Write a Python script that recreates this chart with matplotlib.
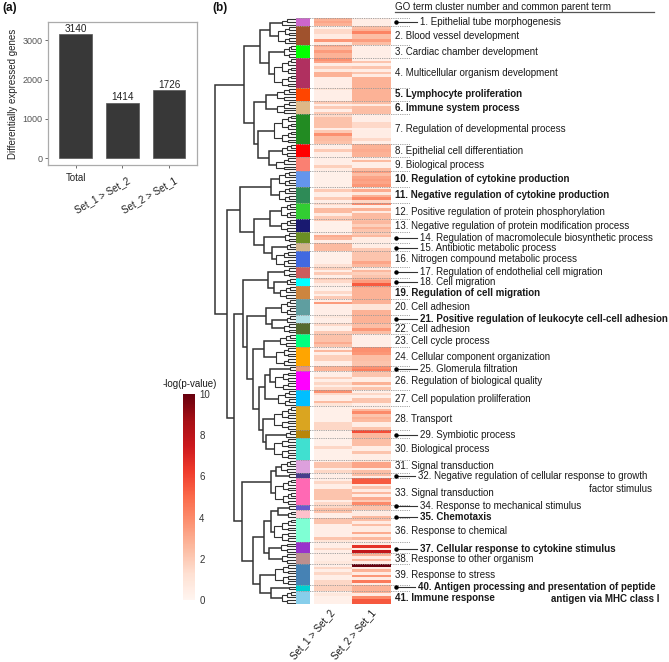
import numpy as np
import matplotlib
matplotlib.use('Agg')
import matplotlib.pyplot as plt
from matplotlib.colors import ListedColormap

plt.rcParams['font.family'] = ['Liberation Sans', 'DejaVu Sans']

W, H = 669, 662

# panel a
bar_names = ['Total', 'Set_1 > Set_2', 'Set_2 > Set_1']
bar_values = [3140, 1414, 1726]

# panel b: one list per GO cluster, one value per term
set1_values = [
    [2.8, 3.2, 2.8],
    [.3, 1.5, 1.5, .6, .6, 3.6, .8],
    [3, 2.5, 3.5, 2.8, 2.8],
    [3.8, 3.2, .5, 2, .7, 2.8, 2.8, .4, .4, .4, .4],
    [1, .4, .4, .4, .4],
    [2, .4, 2, .4, 2],
    [1.5, 2.3, 2.3, 2.3, 2.3, .4, 2, 3.8, 2.5, 2.5, 2.3],
    [.4, .4, 2, .4, .4],
    [.4, .4, .4, 1.8, .5],
    [.3, .3, .3, .3, .3, .3],
    [.3, 2, .4, .4, 2, .4],
    [1.5, .5, 2.5, 2.5, .6, 2],
    [2, .3, .3, .3, .3],
    [.4, 3, 2.6, .4],
    [2.5, 2.5, 2.5],
    [.3, .3, .3, .3, .3, 1.2],
    [1.8, .4, 2, .4],
    [2, 1.5, .5],
    [.3, .3, 1.5, .3, 2],
    [.4, 3.5, .4, .4, .4, .4],
    [.8, .4, .4],
    [1.5, .3, .3, 2],
    [2.3, 2.3, 2.3, 3, 2.3],
    [.4, 2.6, .4, 1.8, 1.8, .4, .4],
    [2.8, 2.8],
    [.4, .4, 1.8, .4, 1.6, .5, 1.6],
    [3.8, 1.5, .4, .4, 2.5, 1],
    [.3, .3, .3, .3, .3, .3, 1.6, 1.6, 1.6],
    [.3, .3, .3],
    [.3, .3, .3, 1.6, .3, .3, .3, .3],
    [.4, 2.2, 2.2, .4, 1.6],
    [.4, .4],
    [.4, 1.6, .4, .4, 2.2, 2.2, 2.2, 2.2, .4, 1.5],
    [1.6, 2.4],
    [2.3, .4, .4],
    [2.2, 2.2, .4, .4, .4, .4, .4, 2.2, 1],
    [.4, .4, 1.6, .4],
    [.5, .5, .5, .8],
    [.4, 1.6, .4, 1.6, .4, .4, 1.6, 1.6],
    [1.8, 1.8],
    [.3, .8, .3, .3, .3],
]
set2_values = [
    [.5, .5, .5],
    [2.4, 2.8, 4.2, 2.4, 2.4, 3.4, 2.4],
    [.4, .4, .4, .4, .4],
    [.4, 2.2, .4, 2.2, .5, 2.2, .6, 2.8, 2.8, 2.8, 2.8],
    [2.8, 2.8, 2.8, 2.8, 2.8],
    [2.4, .6, 2.4, 2.4, 2.4],
    [.4, .4, .4, 1.5, 1.5, .4, .5, .5, .5, 1.5, .4],
    [2.8, 2.8, 3, 2.8, 2.8],
    [.4, 2.5, .4, .4, 2.5],
    [3.4, 2.4, 3.2, 3.4, 3.2, 3.6],
    [.6, 3, .8, 2.8, 4, 1.6],
    [4, .5, 2.8, .6, 2.5, 2.5],
    [2.4, 2.6, 1.8, 2.8, 2.2],
    [2, 2.6, .5, .5],
    [.5, .5, 2],
    [2.2, 2.2, 2.2, 2.2, 3.2, 2.6],
    [.6, 2.6, 1.8, 2.2],
    [2.8, 3.4, 5.4],
    [3, 2.8, 2.8, 2.8, 2.8],
    [2.8, 2.8, 1, 1, 2.8, 2.8],
    [2.8, 2.8, 2.8],
    [2.4, 2.4, 3.6, 2.4],
    [.4, .4, .4, .4, .4],
    [3.8, 3.8, 3.6, 2.4, 2.4, 2.2, 2.2],
    [3.8, 4.4],
    [2.2, 2.2, .5, .5, 2.8, .6, 2.2],
    [.4, 1.6, .4, 2.2, 2.2, .4],
    [.5, 2.6, 4, 2.2, 2.8, 2.5, .5, .5, 2.2],
    [5.8, 2.6, 2.6],
    [2.4, 2.4, 2.4, .5, .5, 2.2, .5, .5],
    [1, 3.2, 3.2, .5, 2.4],
    [2.4, .5],
    [5.4, 5.4, .6, 2.2, .6, 2.6, .6, 3, 2, 4],
    [2.2, 2.2],
    [.6, .6, 2.6],
    [2.4, .6, 2.4, .6, .6, 3, .6, 2.6, .6],
    [.6, 6.6, .6, 7.8],
    [2.8, .6, 2.6, .6],
    [10, .6, 2.8, .6, 3.6, .6, 4.5, .6],
    [2.8, 2.8],
    [2.8, .6, 4, 5.5, 5.5],
]
cluster_colors = [
    '#CC66CC', '#A0522D', '#00FF00', '#B03060', '#FF4500', '#DEB887', '#228B22', '#FF0000',
    '#FA8072', '#6495ED', '#2E8B57', '#32CD32', '#191970', '#6B8E23', '#D2B48C', '#4169E1',
    '#CD5C5C', '#00FFFF', '#CD853F', '#5F9EA0', '#B0E0E6', '#556B2F', '#00FF7F', '#FFA500',
    '#E9967A', '#FF00FF', '#00BFFF', '#DAA520', '#B8860B', '#40E0D0', '#DDA0DD', '#483D8B',
    '#FF69B4', '#6A5ACD', '#FFC0CB', '#7FFFD4', '#9932CC', '#BC8F8F', '#4682B4', '#00CED1',
    '#87CEEB',
]
cluster_labels = [
    '1. Epithelial tube morphogenesis', '2. Blood vessel development',
    '3. Cardiac chamber development', '4. Multicellular organism development',
    '5. Lymphocyte proliferation', '6. Immune system process',
    '7. Regulation of developmental process', '8. Epithelial cell differentiation',
    '9. Biological process', '10. Regulation of cytokine production',
    '11. Negative regulation of cytokine production',
    '12. Positive regulation of protein phosphorylation',
    '13. Negative regulation of protein modification process',
    '14. Regulation of macromolecule biosynthetic process',
    '15. Antibiotic metabolic process', '16. Nitrogen compound metabolic process',
    '17. Regulation of endothelial cell migration', '18. Cell migration',
    '19. Regulation of cell migration', '20. Cell adhesion',
    '21. Positive regulation of leukocyte cell-cell adhesion', '22. Cell adhesion',
    '23. Cell cycle process', '24. Cellular component organization',
    '25. Glomerula filtration', '26. Regulation of biological quality',
    '27. Cell population prolilferation', '28. Transport', '29. Symbiotic process',
    '30. Biological process', '31. Signal transduction',
    '32. Negative regulation of cellular response to growth', '33. Signal transduction',
    '34. Response to mechanical stimulus', '35. Chemotaxis', '36. Response to chemical',
    '37. Cellular response to cytokine stimulus', '38. Response to other organism',
    '39. Response to stress', '40. Antigen processing and presentation of peptide',
    '41. Immune response',
]
bold_clusters = [5, 6, 10, 11, 19, 21, 35, 37, 40, 41]
arrow_clusters = [1, 14, 15, 17, 18, 21, 25, 29, 32, 34, 35, 37, 40]
label_y = [22, 36, 52, 73, 94, 108, 129.5, 151, 165, 179, 195, 212, 226, 238, 248, 258.5,
           272, 282, 293, 306.5, 319, 329, 341, 357, 369, 381.5, 399, 418.5, 435, 449,
           466, 476, 492.5, 506, 516.5, 530.5, 549, 559, 575, 587, 598]

# dendrogram above the clusters: [merge height, left, right], ints are cluster numbers
cluster_tree = [81,
    [52,
        [36, [26, 1, 2], [27, 3, 4]],
        [42, [30, 5, 6], [38, 7, [27, 8, 9]]]],
    [69,
        [56, [25, 10, 11], [42, [26, 12, 13], [32, 14, [24, 15, 16]]]],
        [62,
            [53,
                [28, 17, [22, 18, 19]],
                [49,
                    [30, 20, [24, 21, 22]],
                    [43,
                        [32, 23, 24],
                        [37,
                            [31, [26, 25, 26], 27],
                            [33, 28, [30, 29, 30]]]]]],
            [54,
                [25, [20, 31, 32], 33],
                [43,
                    [32, [25, [18, 34, 35], 36], [27, 37, 38]],
                    [36, 39, [25, 40, 41]]]]]]]
cluster_heights = [14, 18, 12, 22, 19, 19, 22, 14, 20, 17, 17, 15, 15, 11, 9, 20,
                   12, 9, 16, 15, 9, 12, 16, 20, 6, 21, 18, 22, 10, 22, 15, 7, 21,
                   7, 8, 22, 15, 14, 21, 7, 14]

cbar_ticks = [0, 2, 4, 6, 8, 10]


def add_ax(left, top, right, bottom):
    return fig.add_axes([left / W, 1 - bottom / H, (right - left) / W, (bottom - top) / H])


fig = plt.figure(figsize=(W / 100, H / 100), dpi=100)

### panel a
ax = add_ax(47.5, 22, 197, 165)
ax.bar(range(3), bar_values, width=0.7, color='#383838', edgecolor='#555555', linewidth=0.5)
for i, v in enumerate(bar_values):
    ax.text(i, v + 5, str(v), ha='center', va='bottom', fontsize=7.2, color='#222222')
ax.set_xlim(-0.6, 2.6)
ax.set_ylim(-165, 3456)
ax.set_yticks([0, 1000, 2000, 3000])
ax.tick_params(axis='y', labelsize=6.5, labelcolor='#555555', length=2, width=0.6, color='#555555', pad=1.5)
ax.set_xticks(range(3))
ax.set_xticklabels([])
ax.tick_params(axis='x', length=2, width=0.6, color='#555555')
ax.set_ylabel('Differentially expressed genes', fontsize=7, color='#222222', labelpad=3)
for s in ax.spines.values():
    s.set_color('#ababab')
    s.set_linewidth(0.9)
ax.text(0, -0.055, bar_names[0], transform=ax.get_xaxis_transform(), ha='center', va='top',
        fontsize=7, color='#222222')
for i in [1, 2]:
    ax.text(i + 0.1, -0.075, bar_names[i], transform=ax.get_xaxis_transform(), ha='right', va='top',
            rotation=30, rotation_mode='anchor', fontsize=7, color='#222222')

### panel b
sizes = [len(v) for v in set1_values]
n_rows = sum(sizes)
edges = np.cumsum([0] + sizes)
top_px, bot_px = 18, 604

# heatmap
heat = np.column_stack([np.concatenate(set1_values), np.concatenate(set2_values)])
ax_heat = add_ax(313.5, top_px, 391, bot_px)
mesh = ax_heat.pcolormesh(heat, cmap='Reds', vmin=0, vmax=10)
ax_heat.set_ylim(n_rows, 0)
ax_heat.axis('off')

# cluster colour strip
ax_strip = add_ax(296, top_px, 309.5, bot_px)
strip = np.repeat(np.arange(len(sizes)), sizes).reshape(-1, 1)
ax_strip.pcolormesh(strip, cmap=ListedColormap(cluster_colors), vmin=-0.5, vmax=len(sizes) - 0.5)
ax_strip.set_ylim(n_rows, 0)
ax_strip.axis('off')

# dendrogram
ax_den = add_ax(205, top_px, 296, bot_px)
ax_den.set_xlim(91, 0)
ax_den.set_ylim(n_rows, 0)
ax_den.axis('off')


def draw_link(h, a, b, lw):
    ax_den.plot([a[0], h, h, b[0]], [a[1], a[1], b[1], b[1]], color='#333333', lw=lw,
                solid_joinstyle='miter', solid_capstyle='butt')


def draw_leaves(first, n, h):
    if n == 1:
        return (0, first + 0.5)
    k = (n + 1) // 2
    a = draw_leaves(first, k, h * 0.62)
    b = draw_leaves(first + k, n - k, h * 0.62)
    draw_link(h, a, b, 0.8)
    return (h, (a[1] + b[1]) / 2)


def draw_tree(node):
    if isinstance(node, int):
        c = node - 1
        return draw_leaves(edges[c], sizes[c], cluster_heights[c])
    a = draw_tree(node[1])
    b = draw_tree(node[2])
    draw_link(node[0], a, b, 1.1)
    return (node[0], (a[1] + b[1]) / 2)


root = draw_tree(cluster_tree)

# dotted separators between the clusters
ax_sep = add_ax(296, top_px, 410, bot_px)
ax_sep.set_xlim(0, 1)
ax_sep.set_ylim(n_rows, 0)
ax_sep.axis('off')
ax_sep.patch.set_alpha(0)
ax_sep.hlines(edges, 0, 1, color='#999999', lw=0.6, linestyles=(0, (1.5, 1.2)))

# column names, labels, connectors
over = fig.add_axes([0, 0, 1, 1], zorder=5)
over.set_xlim(0, W)
over.set_ylim(H, 0)
over.axis('off')
over.patch.set_alpha(0)

txt = '#1a1a1a'
over.text(2, 8, '(a)', fontsize=8.5, fontweight='bold', va='center', color='#111111')
over.text(212, 8, '(b)', fontsize=8.5, fontweight='bold', va='center', color='#111111')
over.text(395, 7, 'GO term cluster number and common parent term', fontsize=7, va='center', color=txt)
over.plot([395, 654], [12, 12], color='#555555', lw=0.9)

for i, name in enumerate(cluster_labels):
    num = i + 1
    weight = 'bold' if num in bold_clusters else 'normal'
    x = 395
    if num in arrow_clusters:
        x = 418 if num in (32, 40) else 420
        over.plot([396, x - 3], [label_y[i], label_y[i]], color='#333333', lw=0.8)
        over.plot([396], [label_y[i]], 'o', color='black', ms=2.2)
    over.text(x, label_y[i], name, fontsize=7, fontweight=weight, va='center', color=txt)
over.text(652, 488.5, 'factor stimulus', fontsize=7, ha='right', va='center', color=txt)
over.text(659, 599, 'antigen via MHC class I', fontsize=7, fontweight='bold', ha='right', va='center', color=txt)

over.text(333, 611, bar_names[1], fontsize=7, rotation=49, rotation_mode='anchor', ha='right', va='center', color=txt)
over.text(374, 611, bar_names[2], fontsize=7, rotation=49, rotation_mode='anchor', ha='right', va='center', color=txt)

# colour scale
cax = add_ax(183, 394, 195, 600)
cb = fig.colorbar(mesh, cax=cax, ticks=cbar_ticks)
cb.outline.set_visible(False)
cb.ax.tick_params(length=0, labelsize=7, labelcolor='#333333', pad=3)
over.text(190, 384, '-log(p-value)', fontsize=7, ha='center', va='center', color=txt)

fig.savefig('out.png', dpi=100)
